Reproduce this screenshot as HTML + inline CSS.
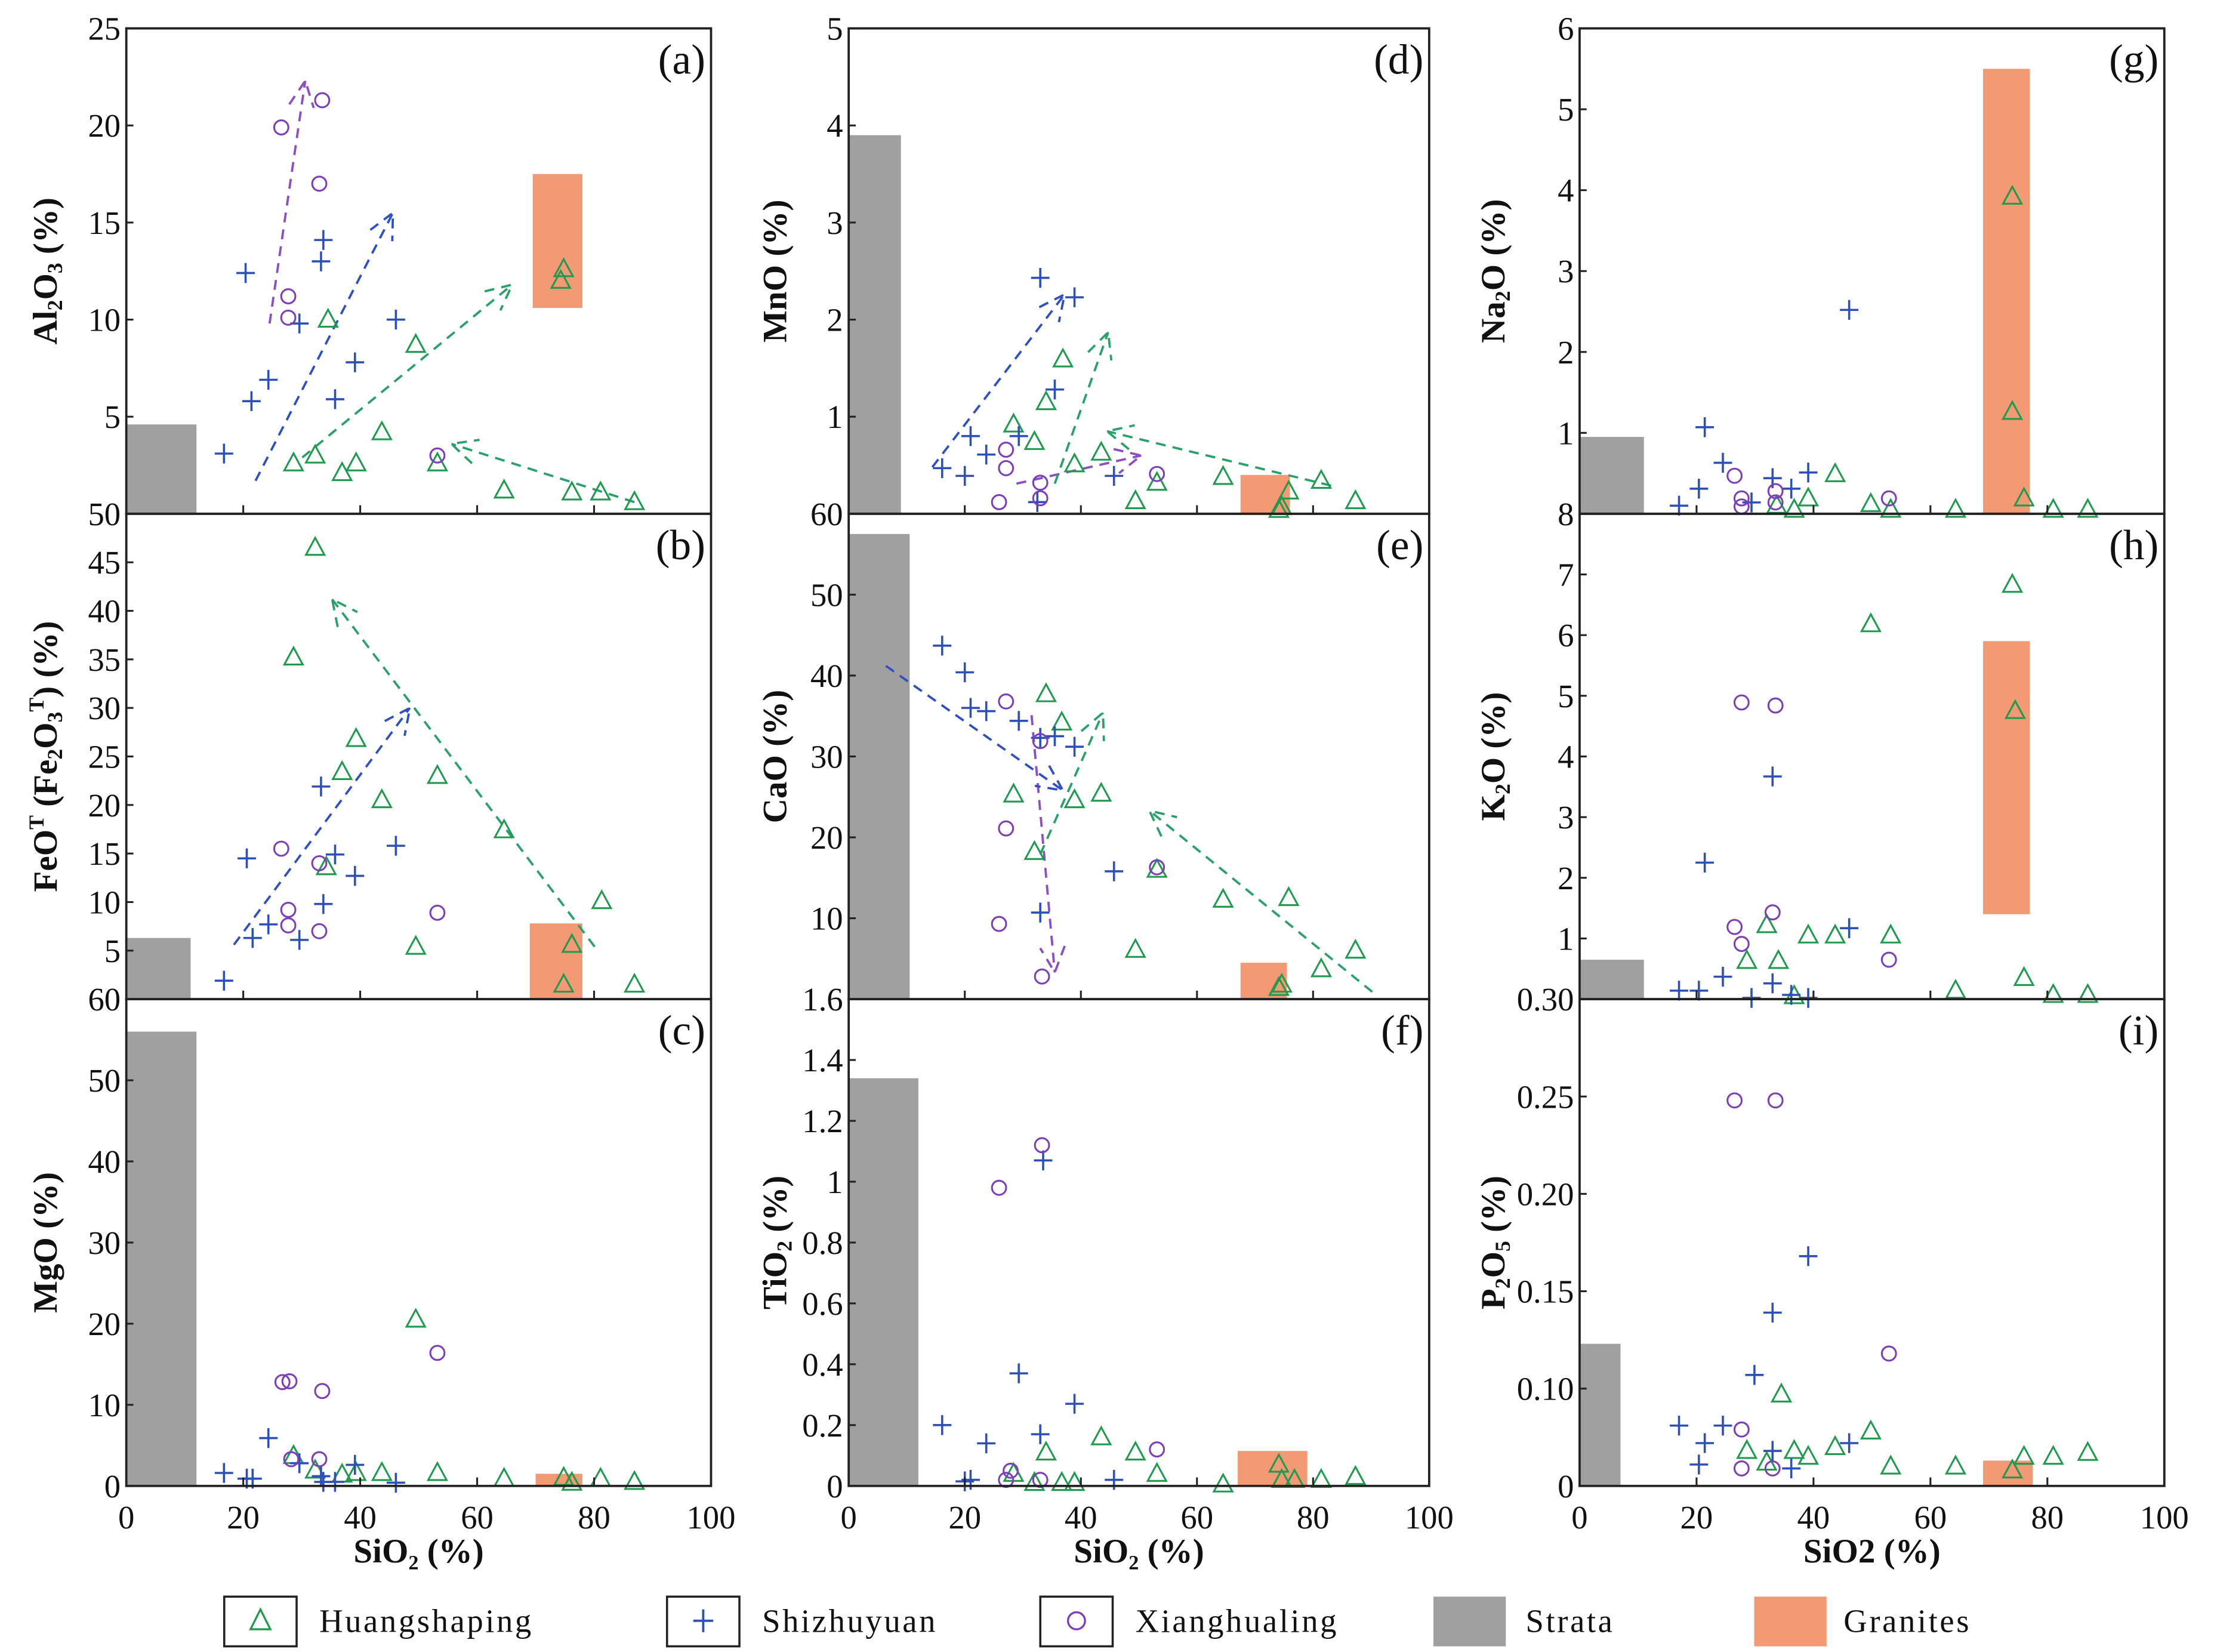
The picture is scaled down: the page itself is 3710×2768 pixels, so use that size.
<!DOCTYPE html>
<html><head><meta charset="utf-8"><style>
html,body{margin:0;padding:0;background:#fff}
svg{display:block}
text{font-family:"Liberation Serif",serif;fill:#111}
</style></head><body>
<svg id="fig" xmlns="http://www.w3.org/2000/svg" width="3710" height="2768" viewBox="0 0 1560 1164" preserveAspectRatio="none"></svg>
<script>
// ---- data (SiO2 %, oxide %) ----
const a_huang=[[28.6,2.6],[32.3,3.0],[36.9,2.1],[39.3,2.6],[43.7,4.2],[49.5,8.7],[53.2,2.6],[64.6,1.2],[74.8,12.6],[74.3,12.0],[76.2,1.1],[81.1,1.1],[86.9,0.6],[34.5,10.0]];
const a_shi=[[16.7,3.1],[20.4,12.4],[21.4,5.8],[24.3,6.9],[29.6,9.8],[33.3,13.0],[33.7,14.1],[35.7,5.9],[39.1,7.8],[46.1,10.0]];
const a_xiang=[[26.5,19.9],[27.7,11.2],[27.7,10.1],[33.0,17.0],[33.5,21.3],[53.2,3.0]];
const a_strata=[0,12,0,4.6];
const a_granite=[69.5,78,10.6,17.5];
const a_arrowsPurple=[[24.5,9.8,30.6,22.3]];
const a_arrowsBlue=[[22.1,1.7,45.6,15.5]];
const a_arrowsGreen=[[30.1,2.9,66,11.8],[86.9,0.6,55.6,3.6]];

const b_huang=[[32.3,46.5],[28.6,35.2],[39.3,26.8],[36.9,23.4],[43.7,20.5],[53.2,23.0],[34.2,13.6],[49.5,5.4],[64.6,17.4],[81.3,10.1],[76.2,5.6],[74.8,1.5],[86.9,1.5]];
const b_shi=[[16.7,1.9],[20.6,14.5],[21.6,6.3],[24.3,7.7],[29.6,6.1],[33.3,21.9],[33.7,9.8],[35.7,14.9],[39.1,12.7],[46.1,15.8]];
const b_xiang=[[26.5,15.5],[27.7,9.2],[27.7,7.6],[33.0,14.0],[33.0,7.0],[53.2,8.9]];
const b_strata=[0,11,0,6.3];
const b_granite=[69,78,0,7.8];
const b_arrowsPurple=[];
const b_arrowsBlue=[[18.4,5.6,48.5,30.0]];
const b_arrowsGreen=[[80.1,5.4,35.2,41.2]];

const c_huang=[[49.5,20.5],[28.6,3.7],[32.3,1.9],[36.9,1.4],[43.7,1.6],[53.2,1.6],[64.6,0.9],[74.8,1.0],[76.2,0.4],[81.1,0.9],[86.9,0.5],[39.3,1.6]];
const c_shi=[[16.7,1.6],[20.6,0.9],[21.6,0.9],[24.3,5.9],[29.6,2.8],[33.3,1.2],[33.7,0.5],[35.7,0.5],[39.1,2.6],[46.1,0.4]];
const c_xiang=[[26.7,12.8],[27.9,12.9],[33.5,11.7],[53.2,16.4],[28.2,3.3],[33.0,3.3]];
const c_strata=[0,12,0,56];
const c_granite=[70,78,0,1.5];
const c_arrowsPurple=[],c_arrowsBlue=[],c_arrowsGreen=[];

const d_huang=[[36.9,1.59],[34.0,1.15],[32.0,0.74],[28.4,0.92],[38.9,0.51],[43.5,0.63],[49.4,0.13],[53.1,0.32],[64.5,0.38],[75.8,0.23],[74.6,0.07],[81.4,0.34],[87.3,0.13],[74.1,0.04]];
const d_shi=[[16.1,0.47],[20,0.39],[23.7,0.61],[29.3,0.8],[33,2.43],[38.9,2.23],[35.5,1.28],[32.5,0.12],[45.7,0.39],[21,0.8]];
const d_xiang=[[25.9,0.12],[27.1,0.66],[27.1,0.47],[33,0.16],[33,0.32],[53.1,0.41]];
const d_strata=[0,9,0,3.9];
const d_granite=[67.5,76,0,0.4];
const d_arrowsPurple=[[28.9,0.31,50.4,0.6]];
const d_arrowsBlue=[[14.4,0.48,37.2,2.26]];
const d_arrowsGreen=[[35.5,0.31,44.7,1.87],[83.1,0.29,44.5,0.85]];

const e_huang=[[34.0,37.7],[36.7,34.2],[28.4,25.3],[43.5,25.4],[38.9,24.6],[32.0,18.2],[53.1,16.0],[64.5,12.3],[75.8,12.5],[49.4,6.1],[87.3,6.0],[81.4,3.7],[74.6,1.8],[74.1,1.4]];
const e_shi=[[16.1,43.7],[20,40.4],[21,36],[23.7,35.6],[29.3,34.4],[33,32.3],[35.5,32.5],[38.9,31.2],[33,10.7],[45.7,15.8]];
const e_xiang=[[27.1,36.8],[27.1,21.1],[25.9,9.3],[33,31.9],[33.3,2.8],[53.1,16.3]];
const e_strata=[0,10.5,0,57.5];
const e_granite=[67.5,75.5,0,4.5];
const e_arrowsPurple=[[31.5,35.1,35.5,3.3]];
const e_arrowsBlue=[[6.4,41.2,36.9,25.8]];
const e_arrowsGreen=[[33,17.9,43.8,35.4],[90.2,0.9,51.8,23.3]];

const f_huang=[[34,0.11],[43.5,0.16],[49.4,0.11],[53.1,0.04],[64.5,0.005],[74.1,0.07],[74.6,0.02],[76.8,0.02],[81.4,0.02],[87.3,0.03],[28.4,0.04],[32,0.01],[36.7,0.01],[38.9,0.01]];
const f_shi=[[16.1,0.2],[20,0.015],[21,0.02],[23.7,0.14],[29.3,0.37],[33,0.17],[33.5,1.07],[38.9,0.27],[45.7,0.02]];
const f_xiang=[[25.9,0.98],[33.3,1.12],[53.1,0.12],[27.9,0.05],[27.1,0.02],[33,0.02]];
const f_strata=[0,12,0,1.34];
const f_granite=[67,79,0,0.115];
const f_arrowsPurple=[],f_arrowsBlue=[],f_arrowsGreen=[];

const g_huang=[[74,3.92],[74,1.26],[76,0.19],[43.7,0.49],[49.8,0.12],[53.2,0.05],[64.3,0.05],[81,0.05],[86.9,0.05],[39.1,0.19],[36.7,0.05],[33.7,0.1]];
const g_shi=[[17,0.1],[20.4,0.31],[21.4,1.07],[24.5,0.63],[29.4,0.14],[33,0.44],[36.2,0.31],[39.1,0.51],[46.1,2.52]];
const g_xiang=[[26.5,0.47],[27.7,0.19],[27.7,0.09],[33.5,0.28],[33.5,0.14],[52.9,0.19]];
const g_strata=[0,11,0,0.95];
const g_granite=[69,77,0,5.5];
const g_arrowsPurple=[],g_arrowsBlue=[],g_arrowsGreen=[];

const h_huang=[[74,6.83],[49.8,6.18],[74.5,4.75],[32,1.22],[34,0.63],[28.6,0.63],[39.1,1.05],[43.7,1.05],[53.2,1.05],[64.3,0.14],[76,0.35],[81,0.07],[86.9,0.07],[36.7,0.05]];
const h_shi=[[17,0.14],[20.4,0.14],[21.4,2.25],[24.5,0.37],[29.4,0.02],[33,3.67],[33,0.26],[36.2,0.07],[39.1,0.02],[46.1,1.17]];
const h_xiang=[[27.7,4.89],[33.5,4.84],[33,1.43],[26.5,1.19],[27.7,0.91],[52.9,0.65]];
const h_strata=[0,11,0,0.65];
const h_granite=[69,77,1.4,5.9];
const h_arrowsPurple=[],h_arrowsBlue=[],h_arrowsGreen=[];

const i_huang=[[34.5,0.097],[49.8,0.078],[28.6,0.068],[32,0.062],[36.7,0.068],[39.1,0.065],[43.7,0.070],[53.2,0.060],[64.3,0.060],[74,0.058],[76,0.065],[81,0.065],[86.9,0.067]];
const i_shi=[[17,0.081],[20.4,0.061],[21.4,0.072],[24.5,0.081],[29.9,0.107],[33,0.139],[33,0.068],[36.2,0.059],[39.1,0.168],[46.1,0.072]];
const i_xiang=[[26.5,0.248],[33.5,0.248],[27.7,0.079],[27.7,0.059],[33,0.059],[52.9,0.118]];
const i_strata=[0,7,0.05,0.123];
const i_granite=[69,77.5,0.05,0.063];
const i_arrowsPurple=[],i_arrowsBlue=[],i_arrowsGreen=[];

const xTickLabels=["0","20","40","60","80","100"];
const xTickValues=[0,20,40,60,80,100];
const a_ticks=[5,10,15,20,25], b_ticks=[5,10,15,20,25,30,35,40,45,50], c_ticks=[0,10,20,30,40,50,60];
const d_ticks=[1,2,3,4,5], e_ticks=[10,20,30,40,50,60], f_ticks=[0,0.2,0.4,0.6,0.8,1,1.2,1.4,1.6];
const g_ticks=[1,2,3,4,5,6], h_ticks=[1,2,3,4,5,6,7,8], i_ticks=[0.10,0.15,0.20,0.25,0.30];
const i_tickLabels=["0.10","0.15","0.20","0.25","0.30"];

// ---- layout ----
const NS="http://www.w3.org/2000/svg";
const svg=document.getElementById('fig');
function mk(tag,attrs,parent){const e=document.createElementNS(NS,tag);for(const k in attrs)e.setAttribute(k,attrs[k]);(parent||svg).appendChild(e);return e;}
const cols=[[89,501],[598,1007],[1113,1525]];
const rows=[[20,362],[362,704],[704,1047]];
const C={green:"#1f9a4e",blue:"#2c4fb8",purple:"#7d3fb8",gArrow:"#2aa16a",bArrow:"#2f50c2",pArrow:"#8b4fc4",strata:"#a0a0a0",granite:"#f19a74"};
const panels=[
 {id:"a",c:0,r:0,ymin:0,ymax:25,ticks:a_ticks,hu:a_huang,sh:a_shi,xi:a_xiang,st:a_strata,gr:a_granite,ap:a_arrowsPurple,ab:a_arrowsBlue,ag:a_arrowsGreen},
 {id:"b",c:0,r:1,ymin:0,ymax:50,ticks:b_ticks,hu:b_huang,sh:b_shi,xi:b_xiang,st:b_strata,gr:b_granite,ap:b_arrowsPurple,ab:b_arrowsBlue,ag:b_arrowsGreen},
 {id:"c",c:0,r:2,ymin:0,ymax:60,ticks:c_ticks,hu:c_huang,sh:c_shi,xi:c_xiang,st:c_strata,gr:c_granite,ap:c_arrowsPurple,ab:c_arrowsBlue,ag:c_arrowsGreen},
 {id:"d",c:1,r:0,ymin:0,ymax:5,ticks:d_ticks,hu:d_huang,sh:d_shi,xi:d_xiang,st:d_strata,gr:d_granite,ap:d_arrowsPurple,ab:d_arrowsBlue,ag:d_arrowsGreen},
 {id:"e",c:1,r:1,ymin:0,ymax:60,ticks:e_ticks,hu:e_huang,sh:e_shi,xi:e_xiang,st:e_strata,gr:e_granite,ap:e_arrowsPurple,ab:e_arrowsBlue,ag:e_arrowsGreen},
 {id:"f",c:1,r:2,ymin:0,ymax:1.6,ticks:f_ticks,hu:f_huang,sh:f_shi,xi:f_xiang,st:f_strata,gr:f_granite,ap:f_arrowsPurple,ab:f_arrowsBlue,ag:f_arrowsGreen},
 {id:"g",c:2,r:0,ymin:0,ymax:6,ticks:g_ticks,hu:g_huang,sh:g_shi,xi:g_xiang,st:g_strata,gr:g_granite,ap:g_arrowsPurple,ab:g_arrowsBlue,ag:g_arrowsGreen},
 {id:"h",c:2,r:1,ymin:0,ymax:8,ticks:h_ticks,hu:h_huang,sh:h_shi,xi:h_xiang,st:h_strata,gr:h_granite,ap:h_arrowsPurple,ab:h_arrowsBlue,ag:h_arrowsGreen},
 {id:"i",c:2,r:2,ymin:0.05,ymax:0.30,ticks:i_ticks,labels:i_tickLabels,zeroLabel:true,hu:i_huang,sh:i_shi,xi:i_xiang,st:i_strata,gr:i_granite,ap:i_arrowsPurple,ab:i_arrowsBlue,ag:i_arrowsGreen}
];
const ylabels={a:[["Al",0],["2",1],["O",0],["3",1],[" (%)",0]],b:[["FeO",0],["T",2],[" (Fe",0],["2",1],["O",0],["3",1],["T",2],[") (%)",0]],c:[["MgO (%)",0]],
 d:[["MnO (%)",0]],e:[["CaO (%)",0]],f:[["TiO",0],["2",1],[" (%)",0]],g:[["Na",0],["2",1],["O (%)",0]],h:[["K",0],["2",1],["O (%)",0]],i:[["P",0],["2",1],["O",0],["5",1],[" (%)",0]]};
const ylabX=[32,546,1052];

panels.forEach(p=>{
 const [x0,x1]=cols[p.c],[yt,yb]=rows[p.r];
 const X=v=>x0+(v/100)*(x1-x0);
 const Y=v=>yb-(v-p.ymin)/(p.ymax-p.ymin)*(yb-yt);
 const g=mk('g',{});
 
 
 const sr=mk('rect',{x:X(p.st[0]),y:Y(p.st[3]),width:X(p.st[1])-X(p.st[0]),height:Y(p.st[2])-Y(p.st[3]),fill:C.strata},g);
 
 
 const gr=mk('rect',{x:X(p.gr[0]),y:Y(p.gr[3]),width:X(p.gr[1])-X(p.gr[0]),height:Y(p.gr[2])-Y(p.gr[3]),fill:C.granite},g);
 
 
 [[p.ap,C.pArrow],[p.ab,C.bArrow],[p.ag,C.gArrow]].forEach(([arr,col])=>{
  arr.forEach(a=>{
   const ax=X(a[0]),ay=Y(a[1]),bx=X(a[2]),by=Y(a[3]);
   const ang=Math.atan2(ay-by,ax-bx),L=20,h=0.45;
   const d=`M${ax},${ay}L${bx},${by}M${bx+L*Math.cos(ang+h)},${by+L*Math.sin(ang+h)}L${bx},${by}L${bx+L*Math.cos(ang-h)},${by+L*Math.sin(ang-h)}`;
   const el=mk('path',{d:d,fill:"none",stroke:col,"stroke-width":1.6,"stroke-dasharray":"7,5"},g);
   
   
  });
 });
 p.hu.forEach(pt=>{const x=X(pt[0]),y=Y(pt[1]);
  const el=mk('path',{d:`M${x},${y-7}L${x+6.5},${y+5}L${x-6.5},${y+5}Z`,fill:"none",stroke:C.green,"stroke-width":1.3},g);
  
  });
 p.sh.forEach(pt=>{const x=X(pt[0]),y=Y(pt[1]);
  const el=mk('path',{d:`M${x-6.5},${y}H${x+6.5}M${x},${y-7}V${y+7}`,fill:"none",stroke:C.blue,"stroke-width":1.5},g);
  
  });
 p.xi.forEach(pt=>{
  const el=mk('circle',{cx:X(pt[0]),cy:Y(pt[1]),r:5,fill:"none",stroke:C.purple,"stroke-width":1.3},g);
  
  });
 const fr=mk('rect',{x:x0,y:yt,width:x1-x0,height:yb-yt,fill:"none",stroke:"#222","stroke-width":1.6},g);
 
 
 [20,40,60,80].forEach(v=>mk('line',{x1:X(v),x2:X(v),y1:yb,y2:yb-6,stroke:"#222","stroke-width":1.3},g));
 p.ticks.forEach((v,k)=>{
  const y=Y(v);
  mk('line',{x1:x0,x2:x0+5,y1:y,y2:y,stroke:"#222","stroke-width":1.3},g);
  const t=mk('text',{x:x0-4,y:y+8,"text-anchor":"end","font-size":23},g);
  t.textContent=p.labels?p.labels[k]:String(v);
  
  
 });
 if(p.zeroLabel){const t=mk('text',{x:x0-4,y:yb+8,"text-anchor":"end","font-size":23},g);t.textContent="0";}
 const pl=mk('text',{x:x1-4,y:yt+32,"text-anchor":"end","font-size":30},g);
 pl.textContent="("+p.id+")";
 
 
 const cy=(yt+yb)/2;
 const yt_=mk('text',{x:0,y:0,"text-anchor":"middle","font-size":24,"font-weight":"bold",transform:`translate(${ylabX[p.c]+8},${cy}) rotate(-90)`},g);
 
 
 ylabels[p.id].forEach(([s,k])=>{
  const ts=mk('tspan',k?{"font-size":15,"baseline-shift":k==1?"-25%":"60%"}:{},yt_);
  ts.textContent=s;
 });
});
const xt=["SiO\u2082 (%)","SiO\u2082 (%)","SiO2 (%)"];
cols.forEach(([x0,x1],c)=>{
 xTickValues.forEach((v,k)=>{const t=mk('text',{x:x0+v/100*(x1-x0),y:1077,"text-anchor":"middle","font-size":23});t.textContent=xTickLabels[k];
  
  });
 const t=mk('text',{x:(x0+x1)/2,y:1101,"text-anchor":"middle","font-size":24,"font-weight":"bold"});t.textContent=xt[c];
 
 
});
const lg=mk('g',{});


function legText(x,s){const t=mk('text',{x:x,y:1150,"font-size":23,"letter-spacing":"1.5"},lg);t.textContent=s;return t;}
[[158,"Huangshaping",225],[470,"Shizhuyuan",537],[733,"Xianghualing",800]].forEach(([bx,s,tx],k)=>{
 const b=mk('rect',{x:bx,y:1125,width:51,height:35,fill:"#fff",stroke:"#222","stroke-width":1.5},lg);
 
 
 const cx=bx+25.5,cy=1142;
 if(k==0)mk('path',{d:`M${cx},${cy-8}L${cx+7},${cy+6}L${cx-7},${cy+6}Z`,fill:"none",stroke:C.green,"stroke-width":1.4},lg);
 if(k==1)mk('path',{d:`M${cx-7},${cy}H${cx+7}M${cx},${cy-8}V${cy+8}`,stroke:C.blue,"stroke-width":1.6},lg);
 if(k==2)mk('circle',{cx:cx,cy:cy,r:6,fill:"none",stroke:C.purple,"stroke-width":1.4},lg);
 legText(tx,s);
});
const ls=mk('rect',{x:1010,y:1125,width:51,height:35,fill:C.strata},lg);


legText(1075,"Strata");
const lgr=mk('rect',{x:1236,y:1125,width:51,height:35,fill:C.granite},lg);


legText(1299,"Granites");
</script>
</body></html>
